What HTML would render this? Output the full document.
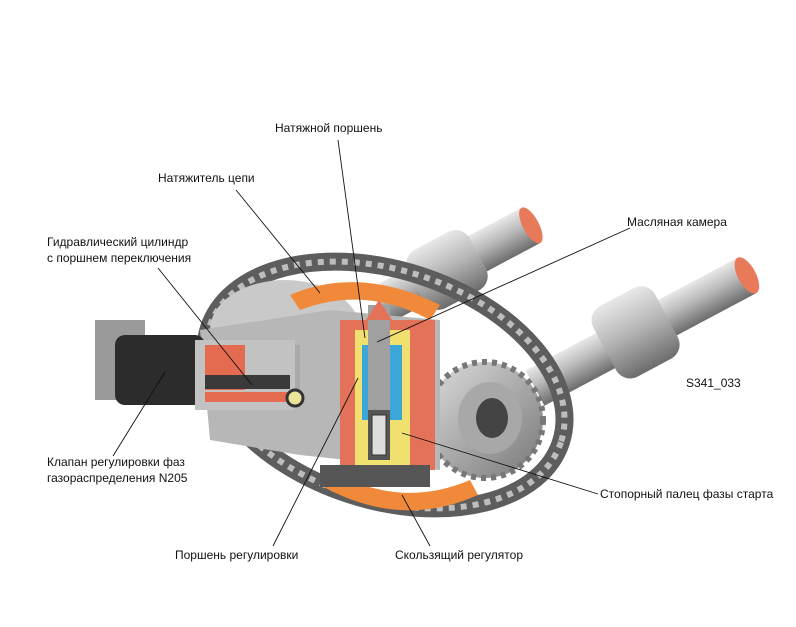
<!DOCTYPE html>
<html><head><meta charset="utf-8"><style>
html,body{margin:0;padding:0;background:#fff;}
svg{display:block}
text{font-family:"Liberation Sans Narrow","Liberation Sans",sans-serif;font-size:12px;fill:#111}
</style></head><body>
<svg width="796" height="627" viewBox="0 0 796 627" xmlns="http://www.w3.org/2000/svg">
<defs>
<linearGradient id="sh" x1="0" y1="0" x2="0" y2="1">
<stop offset="0" stop-color="#e8e8e8"/><stop offset=".45" stop-color="#b8b8b8"/><stop offset="1" stop-color="#6c6c6c"/></linearGradient>
<linearGradient id="sh2" x1="0" y1="0" x2="1" y2="1">
<stop offset="0" stop-color="#ddd"/><stop offset="1" stop-color="#777"/></linearGradient>
</defs>
<!-- upper camshaft -->
<g transform="rotate(-28 470 260)">
<rect x="370" y="238" width="170" height="40" fill="url(#sh)"/>
<rect x="410" y="225" width="70" height="66" rx="16" fill="url(#sh)"/>
<ellipse cx="540" cy="258" rx="8" ry="20" fill="#e87a5a"/>
</g>
<!-- lower camshaft -->
<g transform="rotate(-28 640 330)">
<rect x="520" y="312" width="240" height="40" fill="url(#sh)"/>
<rect x="600" y="290" width="70" height="80" rx="16" fill="url(#sh)"/>
<ellipse cx="760" cy="332" rx="9" ry="20" fill="#e87a5a"/>
</g>
<!-- chain -->
<ellipse cx="385" cy="385" rx="185" ry="115" transform="rotate(18 385 385)" fill="none" stroke="#5d5d5d" stroke-width="18"/>
<ellipse cx="385" cy="385" rx="185" ry="115" transform="rotate(18 385 385)" fill="none" stroke="#bdbdbd" stroke-width="6" stroke-dasharray="6 6"/>
<!-- sprocket right -->
<circle cx="485" cy="420" r="58" fill="url(#sh2)" stroke="#777" stroke-width="6" stroke-dasharray="5 5"/>
<ellipse cx="490" cy="418" rx="32" ry="36" fill="#a8a8a8"/>
<ellipse cx="492" cy="418" rx="16" ry="20" fill="#444"/>
<!-- sprocket left -->
<ellipse cx="285" cy="330" rx="75" ry="50" fill="#c9c9c9"/>
<!-- housing block -->
<path d="M200 330 L330 310 L440 320 L440 470 L300 455 L210 440 Z" fill="#b7b7b7"/>
<rect x="200" y="345" width="100" height="60" fill="#a9a9a9"/>
<!-- valve -->
<rect x="95" y="320" width="50" height="80" fill="#9a9a9a"/>
<rect x="115" y="335" width="90" height="70" rx="10" fill="#2c2c2c"/>
<rect x="195" y="340" width="100" height="70" fill="#c2c2c2"/>
<rect x="205" y="345" width="40" height="45" fill="#e46a50"/>
<rect x="205" y="375" width="85" height="14" fill="#3a3a3a"/>
<rect x="205" y="392" width="85" height="10" fill="#e46a50"/>
<circle cx="295" cy="398" r="8" fill="#e9e49a" stroke="#333" stroke-width="3"/>
<!-- orange guides -->
<path d="M290 295 Q360 265 440 305 L430 320 Q365 285 300 310 Z" fill="#f08a3a"/>
<path d="M330 470 Q400 510 470 480 L478 495 Q400 530 320 485 Z" fill="#f08a3a"/>
<!-- central cutaway -->
<rect x="340" y="320" width="95" height="150" fill="#e47258"/>
<rect x="355" y="330" width="55" height="140" fill="#f0e070"/>
<rect x="362" y="345" width="40" height="75" fill="#3ba6d8"/>
<rect x="368" y="305" width="22" height="130" fill="#a0a0a0"/>
<path d="M366 320 L379 300 L392 320 Z" fill="#e47258"/>
<rect x="368" y="410" width="22" height="50" fill="#555"/>
<rect x="372" y="415" width="14" height="40" fill="#ddd" stroke="#333"/>
<rect x="320" y="465" width="110" height="22" fill="#555"/>
<!-- leader lines -->
<g stroke="#111" stroke-width="0.9" fill="none">
<line x1="338" y1="140" x2="365" y2="338"/>
<line x1="236" y1="190" x2="320" y2="293"/>
<line x1="630" y1="228" x2="377" y2="342"/>
<line x1="158" y1="268" x2="252" y2="385"/>
<line x1="113" y1="456" x2="165" y2="372"/>
<line x1="598" y1="494" x2="402" y2="433"/>
<line x1="273" y1="546" x2="358" y2="378"/>
<line x1="430" y1="546" x2="402" y2="495"/>
</g>
<text x="275" y="132">Натяжной поршень</text>
<text x="158" y="182">Натяжитель цепи</text>
<text x="627" y="226">Масляная камера</text>
<text x="47" y="246">Гидравлический цилиндр</text>
<text x="47" y="262">с поршнем переключения</text>
<text x="686" y="387">S341_033</text>
<text x="47" y="466">Клапан регулировки фаз</text>
<text x="47" y="482">газораспределения N205</text>
<text x="600" y="498">Стопорный палец фазы старта</text>
<text x="175" y="559">Поршень регулировки</text>
<text x="395" y="559">Скользящий регулятор</text>
</svg>
</body></html>
